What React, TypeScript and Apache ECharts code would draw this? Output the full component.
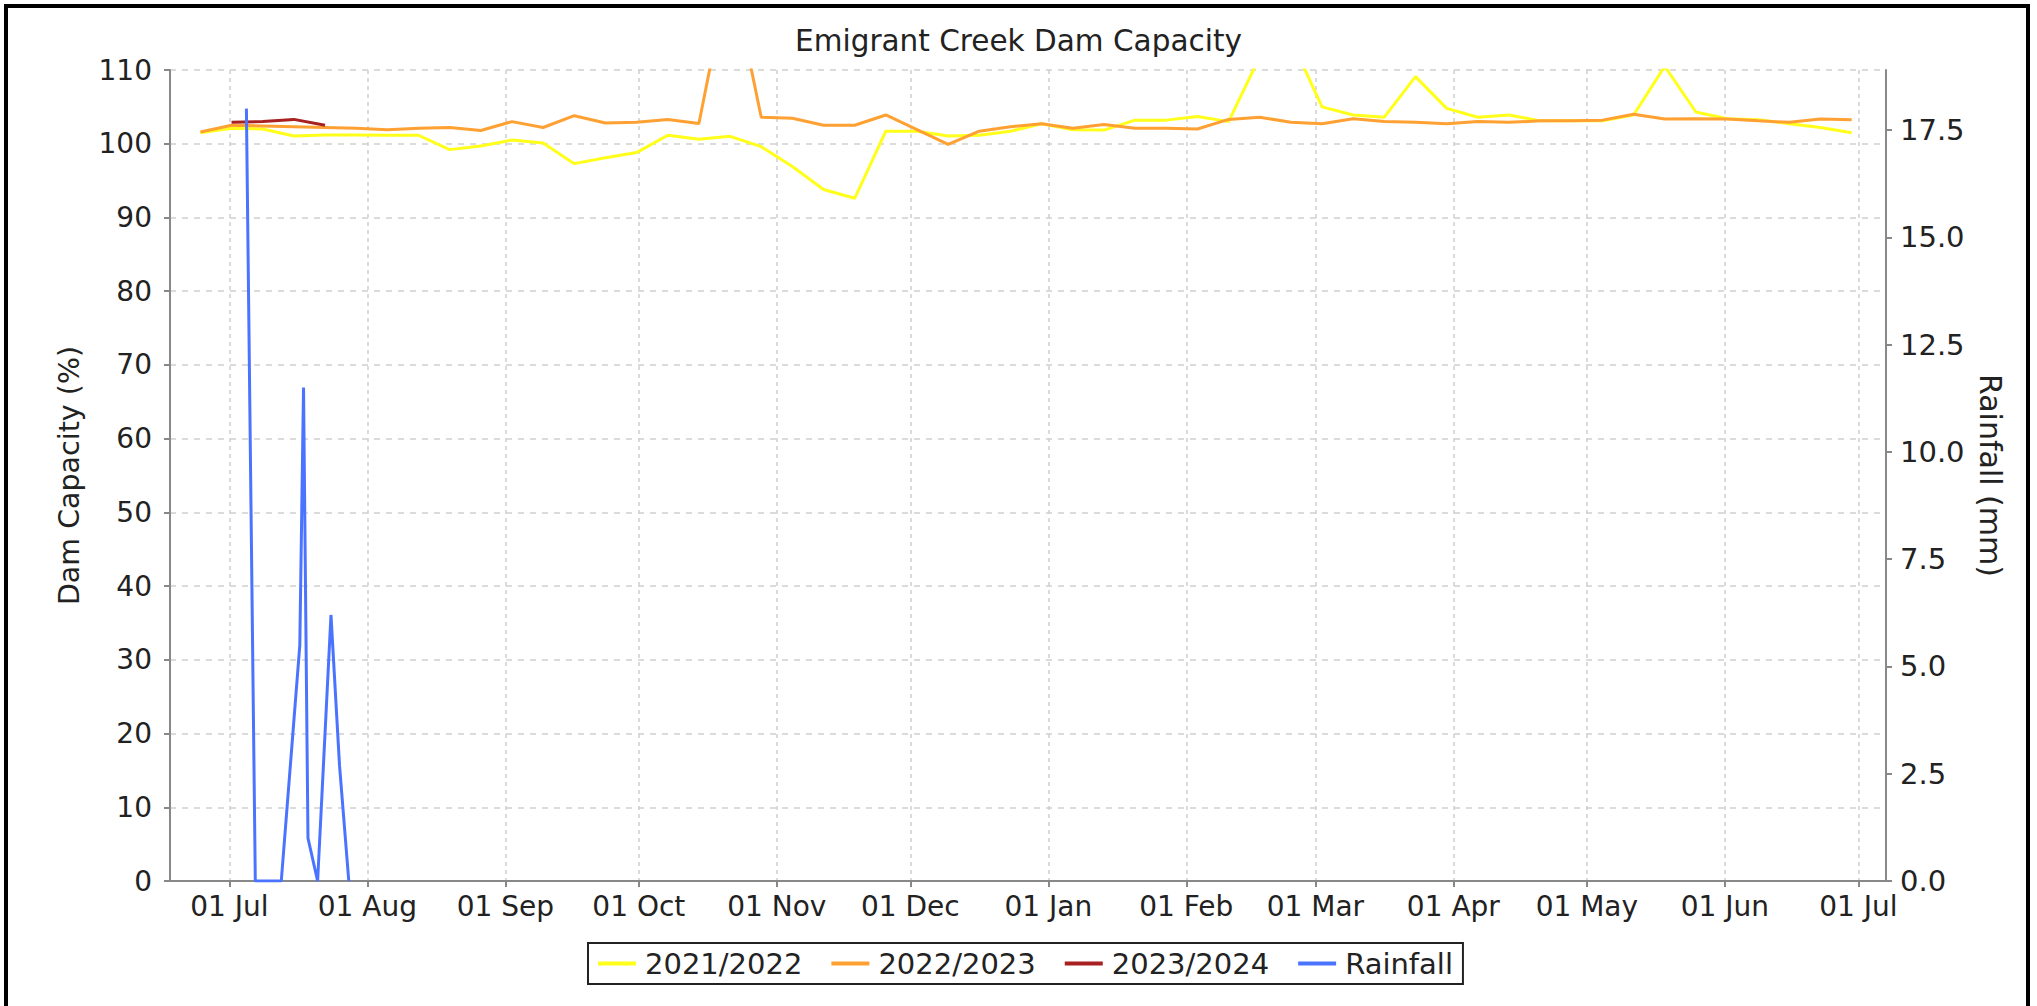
import React, { useEffect, useRef } from 'react';
import * as echarts from 'echarts';

// Weekly sample dates of the dam-capacity seasons, plotted on a common Jul–Jun axis
const weekDates = [
  '2023-06-24 12:00', '2023-07-01 12:00', '2023-07-08 12:00', '2023-07-15 12:00', '2023-07-22 12:00',
  '2023-07-29 12:00', '2023-08-05 12:00', '2023-08-12 12:00', '2023-08-19 12:00', '2023-08-26 12:00',
  '2023-09-02 12:00', '2023-09-09 12:00', '2023-09-16 12:00', '2023-09-23 12:00', '2023-09-30 12:00',
  '2023-10-07 12:00', '2023-10-14 12:00', '2023-10-21 12:00', '2023-10-28 12:00', '2023-11-04 12:00',
  '2023-11-11 12:00', '2023-11-18 12:00', '2023-11-25 12:00', '2023-12-02 12:00', '2023-12-09 12:00',
  '2023-12-16 12:00', '2023-12-23 12:00', '2023-12-30 12:00', '2024-01-06 12:00', '2024-01-13 12:00',
  '2024-01-20 12:00', '2024-01-27 12:00', '2024-02-03 12:00', '2024-02-10 12:00', '2024-02-17 12:00',
  '2024-02-24 12:00', '2024-03-02 12:00', '2024-03-09 12:00', '2024-03-16 12:00', '2024-03-23 12:00',
  '2024-03-30 12:00', '2024-04-06 12:00', '2024-04-13 12:00', '2024-04-20 12:00', '2024-04-27 12:00',
  '2024-05-04 12:00', '2024-05-11 12:00', '2024-05-18 12:00', '2024-05-25 12:00', '2024-06-01 12:00',
  '2024-06-08 12:00', '2024-06-15 12:00', '2024-06-22 12:00', '2024-06-29 12:00',
];

const season2122 = [
  101.5, 102.1, 102.0, 101.05, 101.2, 101.2, 101.15, 101.15, 99.2, 99.7,
  100.5, 100.1, 97.3, 98.1, 98.8, 101.15, 100.6, 101.0, 99.6, 96.9,
  93.8, 92.6, 101.7, 101.7, 101.05, 101.15, 101.7, 102.7, 101.9, 101.85,
  103.2, 103.2, 103.7, 103.0, 111.8, 114.2, 105.0, 103.9, 103.6, 109.1,
  104.8, 103.6, 103.9, 103.1, 103.1, 103.1, 103.9, 110.5, 104.3, 103.4,
  103.25, 102.7, 102.2, 101.5,
];

const season2223 = [
  101.6, 102.5, 102.4, 102.3, 102.2, 102.1, 101.9, 102.1, 102.2, 101.8,
  103.0, 102.2, 103.8, 102.8, 102.9, 103.3, 102.75, 124.0, 103.6, 103.45,
  102.5, 102.5, 103.9, 101.9, 99.9, 101.7, 102.3, 102.7, 102.1, 102.6,
  102.1, 102.1, 102.0, 103.3, 103.6, 102.9, 102.7, 103.4, 103.0, 102.9,
  102.7, 103.0, 102.9, 103.1, 103.1, 103.2, 104.0, 103.35, 103.4, 103.35,
  103.1, 102.9, 103.35, 103.25,
];

const season2324Dates = ['2023-07-01 12:00', '2023-07-08 12:00', '2023-07-15 12:00', '2023-07-22 12:00'];
const season2324 = [102.9, 103.0, 103.3, 102.5];

const rainDates = [
  '2023-07-04 20:00', '2023-07-06 20:00', '2023-07-12 16:00', '2023-07-16 20:00', '2023-07-17 16:00',
  '2023-07-18 16:00', '2023-07-20 20:00', '2023-07-23 20:00', '2023-07-25 18:00', '2023-07-27 20:00',
];
const rainValues = [18.0, 0, 0, 5.5, 11.5, 1.0, 0, 6.2, 2.7, 0];

const seriesNames = ['2021/2022', '2022/2023', '2023/2024', 'Rainfall'];
const seriesColors = ['#ffff1a', '#ffa033', '#a82020', '#4a74ff'];

const leftTicks = { min: 0, max: 110, interval: 10 };
const rightTicks = { min: 0, max: 18.9, interval: 2.5 };

const zip = (xs: string[], ys: number[]) => xs.map((x, i) => [x, ys[i]]);

export default function App() {
  const ref = useRef<HTMLDivElement>(null);
  useEffect(() => {
    const chart = echarts.init(ref.current!, null, { renderer: 'svg' });
    const font = 'DejaVu Sans';
    const txt = '#222';
    chart.setOption({
      animation: false,
      backgroundColor: '#ffffff',
      title: {
        text: 'Emigrant Creek Dam Capacity',
        left: 'center',
        top: 21,
        textStyle: { fontFamily: font, fontSize: 29.5, fontWeight: 'normal', color: txt },
      },
      legend: {
        left: 588,
        top: 943,
        itemWidth: 38,
        itemHeight: 4,
        itemGap: 29,
        icon: 'rect',
        padding: [6, 10, 6, 10],
        borderColor: '#222',
        borderWidth: 2,
        textStyle: { fontFamily: font, fontSize: 29, color: txt, padding: [0, 0, 0, 4] },
        data: seriesNames,
      },
      grid: { left: 170, right: 151, top: 70, bottom: 125 },
      xAxis: {
        type: 'time',
        min: '2023-06-17 16:00',
        max: '2024-07-07 05:00',
        splitNumber: 12,
        minInterval: 28 * 86400000,
        axisLine: { show: true, lineStyle: { color: '#888', width: 2 } },
        axisTick: { show: true, length: 6, lineStyle: { color: '#888', width: 2 } },
        axisLabel: { formatter: '{dd} {MMM}', fontFamily: font, fontSize: 28, color: txt, margin: 11 },
        splitLine: { show: true, lineStyle: { type: [4, 4], color: '#cfcfcf', width: 1.5 } },
      },
      yAxis: [
        {
          type: 'value',
          ...leftTicks,
          name: 'Dam Capacity (%)',
          nameLocation: 'middle',
          nameGap: 86,
          nameTextStyle: { fontFamily: font, fontSize: 28.5, color: txt },
          axisLine: { show: true, lineStyle: { color: '#888', width: 2 } },
          axisTick: { show: true, length: 6, lineStyle: { color: '#888', width: 2 } },
          axisLabel: { fontFamily: font, fontSize: 28, color: txt, margin: 18 },
          splitLine: { show: true, lineStyle: { type: [6, 6], color: '#cfcfcf', width: 1.5 } },
        },
        {
          type: 'value',
          ...rightTicks,
          position: 'right',
          name: 'Rainfall (mm)',
          nameLocation: 'middle',
          nameRotate: -90,
          nameGap: 86,
          nameTextStyle: { fontFamily: font, fontSize: 30, color: txt },
          axisLine: { show: true, lineStyle: { color: '#888', width: 2 } },
          axisTick: { show: true, length: 6, lineStyle: { color: '#888', width: 2 } },
          axisLabel: {
            fontFamily: font, fontSize: 29, color: txt, margin: 14, showMaxLabel: false,
            formatter: (v: number) => v.toFixed(1),
          },
          splitLine: { show: false },
        },
      ],
      series: [
        {
          name: seriesNames[0], type: 'line', showSymbol: false, symbol: 'none',
          data: zip(weekDates, season2122), color: seriesColors[0], lineStyle: { width: 3, color: seriesColors[0] },
        },
        {
          name: seriesNames[1], type: 'line', showSymbol: false, symbol: 'none',
          data: zip(weekDates, season2223), color: seriesColors[1], lineStyle: { width: 3, color: seriesColors[1] },
        },
        {
          name: seriesNames[2], type: 'line', showSymbol: false, symbol: 'none',
          data: zip(season2324Dates, season2324), color: seriesColors[2], lineStyle: { width: 3, color: seriesColors[2] },
        },
        {
          name: seriesNames[3], type: 'line', showSymbol: false, symbol: 'none', yAxisIndex: 1,
          data: zip(rainDates, rainValues), color: seriesColors[3], lineStyle: { width: 3, color: seriesColors[3] },
        },
      ],
    });
    return () => chart.dispose();
  }, []);
  return (
    <div style={{ position: 'fixed', left: 0, top: 0, width: 2037, height: 1006, background: '#fff', overflow: 'hidden' }}>
      <div ref={ref} style={{ position: 'absolute', left: 0, top: 0, width: 2037, height: 1006 }} />
      <div
        style={{
          position: 'absolute', left: 4, top: 4, width: 2026, height: 1030,
          border: '4px solid #000', boxSizing: 'border-box', pointerEvents: 'none',
        }}
      />
    </div>
  );
}
